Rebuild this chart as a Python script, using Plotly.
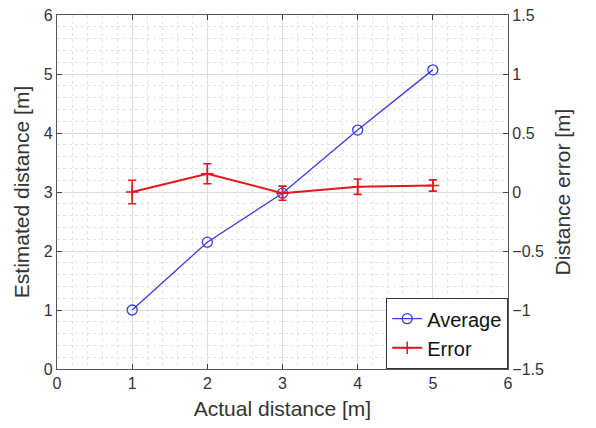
import plotly.graph_objects as go

actual = [1, 2, 3, 4, 5]
average = [1.0, 2.15, 2.98, 4.05, 5.07]
error = [0.0, 0.155, -0.01, 0.045, 0.055]
error_sd = [0.1, 0.085, 0.06, 0.065, 0.048]

x_ticks = [0, 1, 2, 3, 4, 5, 6]
y_ticks = [0, 1, 2, 3, 4, 5, 6]
y2_ticks = [-1.5, -1, -0.5, 0, 0.5, 1, 1.5]
y2_labels = ["\u22121.5", "\u22121", "\u22120.5", "0", "0.5", "1", "1.5"]

fig = go.Figure()
fig.add_trace(go.Scatter(
    x=actual, y=average, name="Average", mode="lines+markers",
    line=dict(color="#3a3ae6", width=1.3),
    marker=dict(symbol="circle-open", size=10, color="#3a3ae6", line=dict(width=1.3)),
))
fig.add_trace(go.Scatter(
    x=actual, y=error, name="Error", mode="lines+markers", yaxis="y2",
    line=dict(color="#e8141b", width=2),
    marker=dict(symbol="cross-thin-open", size=9, color="#e8141b", line=dict(width=1.5, color="#e8141b")),
    error_y=dict(type="data", array=error_sd, color="#e8141b", thickness=1.6, width=4),
))

font = "Liberation Sans, Arial, sans-serif"
tickfont = dict(family=font, size=16, color="#333333")
titlefont = dict(family=font, size=21, color="#333333")
axcommon = dict(
    showline=True, linecolor="#555555", linewidth=1.3,
    ticks="inside", ticklen=5, tickcolor="#444444",
    showgrid=True, gridcolor="#dddddd", gridwidth=1,
    zeroline=False, tickfont=tickfont, automargin=False,
    ticklabeloverflow="allow",
)
# page body has an 8px margin, so the figure is sized and offset to compensate
fig.update_layout(
    width=580, height=412,
    margin=dict(l=49, r=80, t=7, b=51),
    paper_bgcolor="white", plot_bgcolor="white",
    font=dict(family=font, color="#333333"),
    showlegend=True,
    legend=dict(x=1, y=0, xanchor="right", yanchor="bottom",
                bordercolor="#333333", borderwidth=1.2, bgcolor="white",
                font=dict(family=font, size=20, color="#111111"),
                tracegroupgap=0, itemwidth=30),
    xaxis=dict(range=[0, 6], tickvals=x_ticks, mirror="ticks",
               title=dict(text="Actual distance [m]", font=titlefont, standoff=12),
               minor=dict(dtick=0.2, showgrid=True, gridcolor="#e2e2e2", griddash="dot", gridwidth=1),
               **axcommon),
    yaxis=dict(range=[0, 6], tickvals=y_ticks,
               title=dict(text="Estimated distance [m]", font=titlefont, standoff=8),
               minor=dict(dtick=0.2, showgrid=True, gridcolor="#e2e2e2", griddash="dot", gridwidth=1),
               **axcommon),
    yaxis2=dict(range=[-1.5, 1.5], tickvals=y2_ticks, ticktext=y2_labels,
                overlaying="y", side="right", automargin=False,
                ticklabeloverflow="allow",
                showline=True, linecolor="#555555", linewidth=1.3,
                ticks="inside", ticklen=5, tickcolor="#444444",
                showgrid=False, zeroline=False, tickfont=tickfont,
                title=dict(text="Distance error [m]", font=titlefont, standoff=12)),
)
fig.write_html("out.html")
